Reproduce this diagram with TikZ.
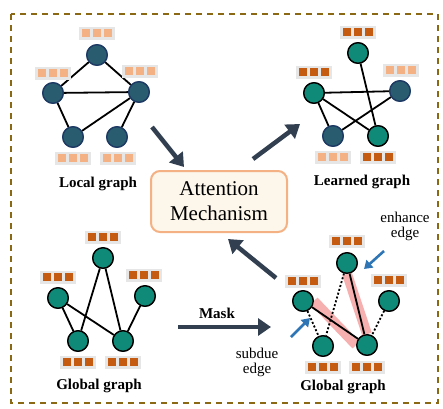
\documentclass[tikz,border=0pt]{standalone}
\usepackage{fontspec}
\setmainfont{Liberation Serif}
\usetikzlibrary{arrows.meta}
\definecolor{frameC}{RGB}{139,105,20}
\definecolor{darkN}{RGB}{40,92,110}
\definecolor{darkNB}{RGB}{30,58,100}
\definecolor{greenN}{RGB}{16,138,120}
\definecolor{lightO}{RGB}{244,177,131}
\definecolor{darkO}{RGB}{197,90,17}
\definecolor{greyB}{RGB}{231,230,230}
\definecolor{arrowC}{RGB}{50,63,80}
\definecolor{attFill}{RGB}{253,246,234}
\definecolor{pinkH}{RGB}{246,176,176}
\definecolor{blueA}{RGB}{46,117,182}
\tikzset{
  x=1pt,y=-1pt,
  bnode/.style={circle,draw=darkNB,fill=darkN,line width=1.3pt,minimum size=20.5pt,inner sep=0pt},
  gnode/.style={circle,draw=black,fill=greenN,line width=1.3pt,minimum size=20.5pt,inner sep=0pt},
  edge/.style={line width=1.8pt,black},
  dotedge/.style={line width=1.8pt,black,dash pattern=on 2pt off 2pt},
  hilite/.style={line width=10pt,pinkH},
  fbg/.style={fill=greyB,minimum width=36pt,minimum height=13pt,inner sep=0pt},
  fsq/.style={minimum size=8pt,inner sep=0pt},
  bigarrow/.style={line width=4.5pt,arrowC,-{Triangle[length=13pt,width=17pt]}},
  bluearrow/.style={line width=2.6pt,blueA,-{Triangle[length=8pt,width=10pt]}},
  glabel/.style={font=\fontsize{15}{17}\selectfont\bfseries},
  tlabel/.style={font=\fontsize{15}{17}\selectfont,align=center},
}
\newcommand\featbox[4]{%
  \node[fbg] (#1) at (#2,#3) {};
  \node[fsq,fill=#4] at ([xshift=-10.7pt]#1.center) {};
  \node[fsq,fill=#4] at (#1.center) {};
  \node[fsq,fill=#4] at ([xshift=10.7pt]#1.center) {};
}
\begin{document}
\begin{tikzpicture}
\useasboundingbox (0,0) rectangle (443,408);
\draw[frameC,line width=2pt,dash pattern=on 6pt off 5pt] (11,14) rectangle (438,403);

% ---------- Local graph ----------
\node[bnode] (la) at (97,55) {};
\node[bnode] (lb) at (53,93) {};
\node[bnode] (lc) at (139,92) {};
\node[bnode] (ld) at (73,137) {};
\node[bnode] (le) at (117,137) {};
\draw[edge] (la) -- (lb);
\draw[edge] (la) -- (lc);
\draw[edge] (lb) -- (lc);
\draw[edge] (lb) -- (ld);
\draw[edge] (ld) -- (lc);
\draw[edge] (le) -- (lc);
\node[bnode] at (la) {};\node[bnode] at (lb) {};\node[bnode] at (lc) {};
\node[bnode] at (ld) {};\node[bnode] at (le) {};
\featbox{lfa}{97}{33}{lightO}
\featbox{lfb}{53}{73}{lightO}
\featbox{lfc}{140}{71}{lightO}
\featbox{lfd}{73}{158}{lightO}
\featbox{lfe}{118}{158}{lightO}
\node[glabel] (llab) at (98,184) {Local graph};

% ---------- Learned graph ----------
\node[gnode] (ra) at (358,53) {};
\node[gnode] (rb) at (314,93) {};
\node[bnode] (rc) at (400,91) {};
\node[bnode] (rd) at (333,136) {};
\node[gnode] (re) at (378,136) {};
\draw[edge] (ra) -- (re);
\draw[edge] (rb) -- (rc);
\draw[edge] (rb) -- (rd);
\draw[edge] (rb) -- (re);
\draw[edge] (rd) -- (rc);
\node[gnode] at (ra) {};\node[gnode] at (rb) {};\node[bnode] at (rc) {};
\node[bnode] at (rd) {};\node[gnode] at (re) {};
\featbox{rfa}{358}{32}{darkO}
\featbox{rfb}{314}{72}{darkO}
\featbox{rfc}{401}{70}{lightO}
\featbox{rfd}{333}{157}{lightO}
\featbox{rfe}{378}{157}{darkO}
\node[glabel] (rlab) at (362,182) {Learned graph};

% ---------- Global graph (left) ----------
\node[gnode] (ga) at (103,258) {};
\node[gnode] (gb) at (58,298) {};
\node[gnode] (gc) at (145,296) {};
\node[gnode] (gd) at (78,341) {};
\node[gnode] (ge) at (123,341) {};
\draw[edge] (ga) -- (gd);
\draw[edge] (ga) -- (ge);
\draw[edge] (gb) -- (gd);
\draw[edge] (gb) -- (ge);
\draw[edge] (gc) -- (ge);
\node[gnode] at (ga) {};\node[gnode] at (gb) {};\node[gnode] at (gc) {};
\node[gnode] at (gd) {};\node[gnode] at (ge) {};
\featbox{gfa}{103}{237}{darkO}
\featbox{gfb}{58}{277}{darkO}
\featbox{gfc}{144}{275}{darkO}
\featbox{gfd}{78}{362}{darkO}
\featbox{gfe}{123}{362}{darkO}
\node[glabel] (glab) at (99,386) {Global graph};

% ---------- Global graph (right, masked) ----------
\node[gnode] (ha) at (347,263) {};
\node[gnode] (hb) at (303,301) {};
\node[gnode] (hc) at (389,301) {};
\node[gnode] (hd) at (323,346) {};
\node[gnode] (he) at (367,345) {};
\draw[hilite] (ha.south) -- (he.north);
\draw[hilite] (hb.east) -- (he.west);
\draw[dotedge] (ha) -- (hd);
\draw[dotedge] (hb) -- (hd);
\draw[dotedge] (hc) -- (he);
\draw[edge] (ha) -- (he);
\draw[edge] (hb) -- (he);
\node[gnode] at (ha) {};\node[gnode] at (hb) {};\node[gnode] at (hc) {};
\node[gnode] at (hd) {};\node[gnode] at (he) {};
\featbox{hfa}{347}{241}{darkO}
\featbox{hfb}{303}{281}{darkO}
\featbox{hfc}{389}{280}{darkO}
\featbox{hfd}{323}{367}{darkO}
\featbox{hfe}{367}{367}{darkO}
\node[glabel] (hlab) at (343,387) {Global graph};

\node[tlabel] (enh) at (405,226) {enhance\\[-2pt]edge};
\node[tlabel] (sub) at (257,362) {subdue\\[-2pt]edge};
\coordinate (enhS) at (384,251);
\coordinate (enhE) at (364,269);
\coordinate (subS) at (291,337);
\coordinate (subE) at (310,318);
\draw[bluearrow] (enhS) -- (enhE);
\draw[bluearrow] (subS) -- (subE);

% ---------- Attention ----------
\node[draw=lightO,fill=attFill,line width=2pt,rounded corners=9pt,
      minimum width=136pt,minimum height=61pt,inner sep=0pt,align=center,
      font=\fontsize{21}{25}\selectfont] (att) at (219,201.5) {Attention\\Mechanism};

\coordinate (a1s) at (152,127);
\coordinate (a1e) at (184,167);
\coordinate (a2s) at (253,159);
\coordinate (a2e) at (300,124);
\coordinate (a3s) at (276,278);
\coordinate (a3e) at (228,239);
\coordinate (a4s) at (178,327);
\coordinate (a4e) at (271,327);
\draw[bigarrow] (a1s) -- (a1e);
\draw[bigarrow] (a2s) -- (a2e);
\draw[bigarrow] (a3s) -- (a3e);
\draw[bigarrow] (a4s) -- (a4e);
\node[glabel] (mask) at (217,313) {Mask};
\end{tikzpicture}
\end{document}
